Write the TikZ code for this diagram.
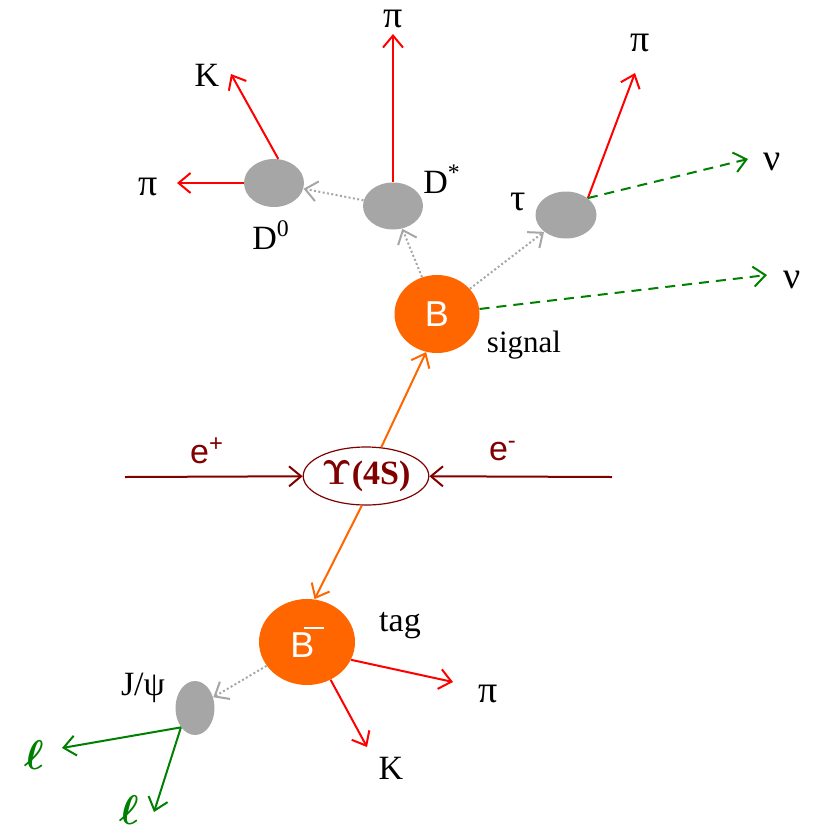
\documentclass[tikz,border=0pt]{standalone}
\usepackage{fontspec}
\setmainfont{Liberation Serif}
\setsansfont{Liberation Sans}
\usepackage{amsmath,bm}
\usetikzlibrary{arrows.meta,shapes.geometric}

\definecolor{borange}{HTML}{FF6600}
\definecolor{bgray}{HTML}{A6A6A6}
\definecolor{bred}{HTML}{FF0000}
\definecolor{bgreen}{HTML}{008000}
\definecolor{bdark}{HTML}{800000}

\begin{document}
\begin{tikzpicture}[
        x=0.5pt,
        y=-0.5pt,
        lbl/.style={font=\fontsize{17}{19}\selectfont, inner sep=0pt},
        greek/.style={font=\fontsize{19}{21}\selectfont, inner sep=0pt},
        small/.style={font=\fontsize{15.5}{17}\selectfont, inner sep=0pt},
        blob/.style={ellipse, fill=bgray, inner sep=0pt},
        meson/.style={ellipse, fill=borange, inner sep=0pt, text=white,
            font=\sffamily\fontsize{18}{20}\selectfont},
        hadron/.style={->, draw=bred, line width=1pt},
        neutrino/.style={->, draw=bgreen, line width=1pt, dash pattern=on 5pt off 3.5pt},
        lepton/.style={->, draw=bgreen, line width=1pt},
        decay/.style={->, draw=bgray, line width=1pt, dash pattern=on 1pt off 1.2pt},
        beam/.style={->, draw=bdark, line width=1pt},
        boost/.style={->, draw=borange, line width=1pt},
        >={Straight Barb[length=6pt,width=10pt]}
    ]
        \useasboundingbox (0,0) rectangle (821,832);

        % particles
        \node[blob, minimum width=30pt, minimum height=24pt] (D0) at (274,183) {};
        \node[blob, minimum width=30pt, minimum height=23.5pt] (Dst) at (393,206) {};
        \node[blob, minimum width=30.5pt, minimum height=23.5pt] (tau) at (566,215) {};
        \node[meson, minimum width=42.5pt, minimum height=39pt] (Bsig) at (437,314) {B};
        \node[ellipse, draw=bdark, line width=0.6pt, fill=white, inner sep=0pt,
            minimum width=52pt, minimum height=29pt, text=bdark,
            font=\bfseries\fontsize{17}{19}\selectfont] (Ups) at (366,476)
            {{\boldmath$\Upsilon$}(4S)};
        \node[meson, minimum width=48pt, minimum height=43pt] (Bbar) at (307,642)
            {B\hspace{-0.3em}\raisebox{0.8em}{\rule{0.55em}{0.9pt}}};
        \node[blob, minimum width=19.5pt, minimum height=27pt] (Jpsi) at (195,708) {};

        % labels
        \node[lbl] (lK) at (207,75) {K};
        \node[greek] (lpiA) at (148,187) {π};
        \node[lbl] (lD0) at (271,235) {D\textsuperscript{0}};
        \node[greek] (lpiB) at (393,19) {π};
        \node[lbl] (lDst) at (442,179) {D\textsuperscript{*}};
        \node[greek] (ltau) at (518,202) {τ};
        \node[greek] (lpiC) at (640,43) {π};
        \node[greek] (lnuA) at (772,162) {ν};
        \node[greek] (lnuB) at (792,280) {ν};
        \node[small] (lsig) at (524,345) {signal};
        \node[lbl, text=bdark, font=\sffamily\fontsize{17}{19}\selectfont] (lep) at (207,451) {e\textsuperscript{+}};
        \node[lbl, text=bdark, font=\sffamily\fontsize{17}{19}\selectfont] (lem) at (503,451) {e\textsuperscript{-}};
        \node[lbl] (ltag) at (400,626) {tag};
        \node[lbl] (lJpsi) at (143,688) {J/ψ};
        \node[greek] (lpiD) at (488,694) {π};
        \node[lbl] (lKB) at (391,768) {K};
        \node[lbl, text=bgreen, font=\fontsize{20}{22}\selectfont] (llA) at (34,755) {$\bm{\ell}$};
        \node[lbl, text=bgreen, font=\fontsize{20}{22}\selectfont] (llB) at (129,810) {$\bm{\ell}$};

        % free ends
        \coordinate (kEnd) at (231,74);
        \coordinate (piAEnd) at (177,183);
        \coordinate (piBEnd) at (393,34);
        \coordinate (piCEnd) at (635,73);
        \coordinate (nuAEnd) at (748,159);
        \coordinate (nuBEnd) at (767,275);
        \coordinate (epStart) at (125,477);
        \coordinate (emStart) at (612,477);
        \coordinate (piDEnd) at (453,682);
        \coordinate (kBEnd) at (367,747);
        \coordinate (lAEnd) at (62,748);
        \coordinate (lBEnd) at (154,812);

        % beams and boosts
        \draw[beam] (epStart) -- (Ups);
        \draw[beam] (emStart) -- (Ups);
        \draw[boost] (Ups.62) -- (Bsig.-106);
        \draw[boost] (Ups.-98) -- (Bbar.80);

        % signal side
        \draw[decay] (Bsig) -- (Dst);
        \draw[decay] (Bsig) -- (tau);
        \draw[decay] (Dst) -- (D0);
        \draw[neutrino] (Bsig) -- (nuBEnd);
        \draw[hadron] (D0.80) -- (kEnd);
        \draw[hadron] (D0.west) -- (piAEnd);
        \draw[hadron] (Dst.north) -- (piBEnd);
        \draw[hadron] (tau.north east) -- (piCEnd);
        \draw[neutrino] (tau.north east) -- (nuAEnd);

        % tag side
        \draw[decay] (Bbar) -- (Jpsi);
        \draw[hadron] (Bbar.-22) -- (piDEnd);
        \draw[hadron] (Bbar.-58) -- (kBEnd);
        \draw[lepton] (Jpsi.south west) -- (lAEnd);
        \draw[lepton] (Jpsi.south west) -- (lBEnd);
    \end{tikzpicture}
\end{document}
